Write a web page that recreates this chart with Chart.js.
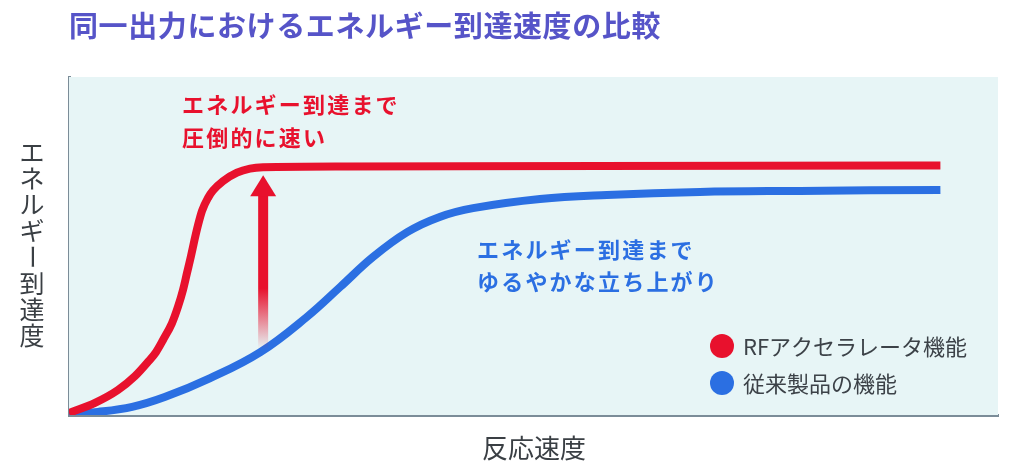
<!DOCTYPE html>
<html><head><meta charset="utf-8">
<script src="https://cdn.jsdelivr.net/npm/chart.js@4"></script>
<style>html,body{margin:0;padding:0;background:#fff}#wrap{width:1024px;height:472px}</style>
</head><body><div id="wrap"><canvas id="c" width="1024" height="472"></canvas></div>
<script>
const titleText = '同一出力におけるエネルギー到達速度の比較';
const yTitle = 'エネルギー到達度';
const xTitle = '反応速度';
const seriesNames = ['RFアクセラレータ機能', '従来製品の機能'];
const redNote = ['エネルギー到達まで', '圧倒的に速い'];
const blueNote = ['エネルギー到達まで', 'ゆるやかな立ち上がり'];

const redX = [0, 2.80, 5.27, 7.10, 8.50, 9.36, 10.12, 11.09, 11.73, 12.27, 12.70, 13.13, 13.51, 13.89, 14.32, 14.96, 15.50, 16.58, 18.08, 19.48, 20.88, 30.0, 57.2, 93.8];
const redY = [0.6, 3.6, 7.4, 11.5, 15.7, 18.6, 22.2, 27.2, 32.0, 37.0, 42.0, 47.0, 51.8, 56.2, 60.4, 64.2, 66.4, 69.2, 71.7, 72.9, 73.3, 73.5, 73.7, 73.8];
const blueX = [0, 3.1, 6.8, 10.3, 15.2, 20.6, 25.6, 29.2, 32.7, 36.4, 39.9, 43.5, 50.7, 57.9, 67.9, 78.7, 93.8];
const blueY = [0.3, 0.9, 2.4, 5.3, 10.9, 18.6, 29.0, 37.9, 46.7, 54.1, 58.6, 61.2, 63.9, 65.1, 66.0, 66.3, 66.6];

const arrowX = 20.9, arrowFrom = 19.5, arrowTo = 70.9;

const RED = '#e8112d', BLUE = '#2b6fe2', AXIS = '#7b8c98', BG = '#e7f5f6';
const FONT = '"Noto Sans CJK JP", "Noto Sans", sans-serif';

const zip = (xs, ys) => xs.map((x, i) => ({x, y: ys[i]}));

const deco = {
  id: 'deco',
  beforeDatasetsDraw(chart) {
    const {ctx, chartArea: a} = chart;
    ctx.save();
    ctx.fillStyle = BG;
    ctx.fillRect(a.left, a.top, a.right - a.left, a.bottom - a.top);
    ctx.restore();
  },
  afterDatasetsDraw(chart) {
    const {ctx, chartArea: a, scales: {x, y}} = chart;
    ctx.save();
    // arrow
    const ax = x.getPixelForValue(arrowX);
    const yb = y.getPixelForValue(arrowFrom);
    const yt = y.getPixelForValue(arrowTo);
    const headH = 21, headW = 26, shaftW = 10;
    const g = ctx.createLinearGradient(0, yb, 0, yt);
    g.addColorStop(0, 'rgba(232,17,45,0)');
    g.addColorStop(0.35, 'rgba(232,17,45,1)');
    g.addColorStop(1, 'rgba(232,17,45,1)');
    ctx.fillStyle = g;
    ctx.fillRect(ax - shaftW / 2, yt + headH - 1, shaftW, yb - yt - headH + 1);
    ctx.fillStyle = RED;
    ctx.beginPath();
    ctx.moveTo(ax, yt);
    ctx.lineTo(ax + headW / 2, yt + headH);
    ctx.lineTo(ax - headW / 2, yt + headH);
    ctx.closePath();
    ctx.fill();

    // notes
    ctx.textBaseline = 'middle';
    ctx.textAlign = 'left';
    ctx.font = 'bold 22px ' + FONT;
    if ('letterSpacing' in ctx) ctx.letterSpacing = '2.2px';
    ctx.fillStyle = RED;
    ctx.fillText(redNote[0], 182, 105);
    ctx.fillText(redNote[1], 182, 138);
    ctx.fillStyle = BLUE;
    ctx.fillText(blueNote[0], 477, 250);
    ctx.fillText(blueNote[1], 477, 282);
    if ('letterSpacing' in ctx) ctx.letterSpacing = '0px';

    // legend
    const cols = chart.data.datasets.map(d => d.borderColor);
    const ly = [346, 383];
    ctx.font = '22px ' + FONT;
    chart.data.datasets.forEach((d, i) => {
      ctx.fillStyle = cols[i];
      ctx.beginPath();
      ctx.arc(722, ly[i], 12, 0, Math.PI * 2);
      ctx.fill();
      ctx.fillStyle = '#3c4248';
      ctx.fillText(d.label, 743, ly[i] + 1);
    });

    // title
    ctx.fillStyle = '#5654c8';
    ctx.font = 'bold 29px ' + FONT;
    if ('letterSpacing' in ctx) ctx.letterSpacing = '0.6px';
    ctx.fillText(titleText, 69, 26);
    if ('letterSpacing' in ctx) ctx.letterSpacing = '0px';

    // x title
    ctx.fillStyle = '#3a3f44';
    ctx.font = '26px ' + FONT;
    ctx.textAlign = 'center';
    ctx.fillText(xTitle, 534, 448);

    // y title vertical
    ctx.font = '25px ' + FONT;
    const chars = [...yTitle];
    const step = 26.2, y0 = 152;
    chars.forEach((ch, i) => {
      const cy = y0 + i * step;
      if (ch === 'ー') {
        ctx.save();
        ctx.translate(32, cy);
        ctx.rotate(Math.PI / 2);
        ctx.fillText(ch, 0, 0);
        ctx.restore();
      } else {
        ctx.fillText(ch, 32, cy);
      }
    });
    ctx.restore();
  }
};

new Chart(document.getElementById('c'), {
  type: 'line',
  data: {
    datasets: [
      {label: seriesNames[0], data: zip(redX, redY), borderColor: RED, borderWidth: 8, pointRadius: 0, cubicInterpolationMode: 'monotone', fill: false, borderCapStyle: 'butt', borderJoinStyle: 'round'},
      {label: seriesNames[1], data: zip(blueX, blueY), borderColor: BLUE, borderWidth: 8, pointRadius: 0, tension: 0.4, fill: false, borderCapStyle: 'butt', borderJoinStyle: 'round'}
    ]
  },
  options: {
    responsive: false,
    animation: false,
    devicePixelRatio: 1,
    layout: {padding: {top: 77, right: 26, left: 0, bottom: 0}},
    plugins: {legend: {display: false}, tooltip: {enabled: false}},
    scales: {
      x: {type: 'linear', min: 0, max: 100,
        ticks: {display: false}, grid: {display: false, drawTicks: false},
        border: {display: true, color: AXIS, width: 3},
        afterFit: s => { s.height = 57; }},
      y: {type: 'linear', min: 0, max: 100,
        ticks: {display: false}, grid: {display: false, drawTicks: false},
        border: {display: true, color: AXIS, width: 3},
        afterFit: s => { s.width = 69; }}
    }
  },
  plugins: [deco]
});
</script>
</body></html>
